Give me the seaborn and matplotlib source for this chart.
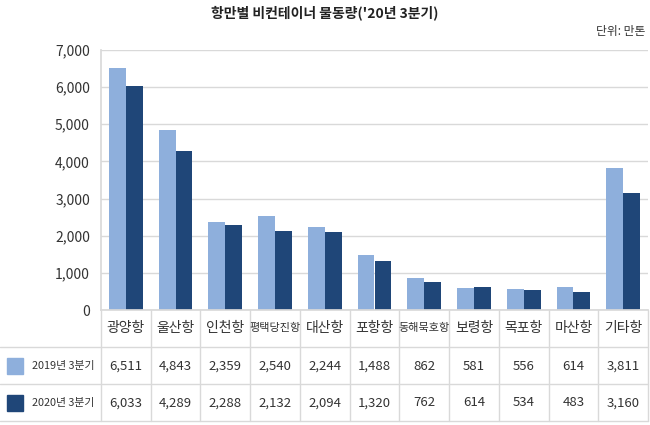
import pandas as pd
import matplotlib.pyplot as plt
import matplotlib.transforms as mtransforms
import seaborn as sns

ports = ["광양항", "울산항", "인천항", "평택당진항", "대산항", "포항항", "동해묵호항",
         "보령항", "목포항", "마산항", "기타항"]
series = ["2019년 3분기", "2020년 3분기"]
vals_2019 = [6511, 4843, 2359, 2540, 2244, 1488, 862, 581, 556, 614, 3811]
vals_2020 = [6033, 4289, 2288, 2132, 2094, 1320, 762, 614, 534, 483, 3160]
yticks = [0, 1000, 2000, 3000, 4000, 5000, 6000, 7000]

colors = ["#8EAFDC", "#1F4678"]
grid_c = "#D9D9D9"
text_c = "#333333"

df = pd.DataFrame({
    "port": ports * 2,
    "series": [series[0]] * len(ports) + [series[1]] * len(ports),
    "value": vals_2019 + vals_2020,
})

sns.set_theme(style="white")
plt.rcParams["font.family"] = ["Noto Sans CJK KR", "DejaVu Sans"]

W, H = 650, 425
fig = plt.figure(figsize=(6.5, 4.25), dpi=100)
ax = fig.add_axes([101 / W, 1 - 310 / H, 547 / W, 260 / H])

sns.barplot(data=df, x="port", y="value", hue="series", palette=colors,
            width=0.68, saturation=1, legend=False, ax=ax, linewidth=0)

ax.set_xlim(-0.5, len(ports) - 0.5)
ax.set_ylim(0, 7000)
ax.set_yticks(yticks)
ax.set_yticklabels([f"{v:,}" for v in yticks], fontsize=10, color=text_c)
ax.set_xticks([])
ax.set_xlabel("")
ax.set_ylabel("")
ax.yaxis.grid(True, color=grid_c, linewidth=1)
ax.set_axisbelow(True)
ax.tick_params(axis="y", length=0, pad=8)
for s in ["top", "right"]:
    ax.spines[s].set_visible(False)
ax.spines["left"].set_color(grid_c)
ax.spines["bottom"].set_color(grid_c)

# 표 부분
trans = mtransforms.blended_transform_factory(ax.transData, fig.transFigure)
fy = lambda py: 1 - py / H
row_lines = [347, 384, 421]
for py in row_lines:
    fig.add_artist(plt.Line2D([0, 648 / W], [fy(py), fy(py)], color=grid_c, lw=1))
for i in range(len(ports) + 1):
    ax.plot([i - 0.5, i - 0.5], [fy(310), fy(421)], transform=trans,
            color=grid_c, lw=1, clip_on=False)

for i, p in enumerate(ports):
    fs = 8 if len(p) > 3 else 10
    ax.text(i, fy(328), p, transform=trans, ha="center", va="center",
            fontsize=fs, color=text_c)
    ax.text(i, fy(366), f"{vals_2019[i]:,}", transform=trans, ha="center",
            va="center", fontsize=9.5, color=text_c)
    ax.text(i, fy(403), f"{vals_2020[i]:,}", transform=trans, ha="center",
            va="center", fontsize=9.5, color=text_c)

for k, py in enumerate([366, 403]):
    fig.add_artist(plt.Rectangle((7 / W, fy(py + 8)), 16 / W, 16 / H,
                                 transform=fig.transFigure, color=colors[k]))
    fig.text(32 / W, fy(py), series[k], ha="left", va="center",
             fontsize=7.8, color=text_c)

fig.text(0.5, fy(13), "항만별 비컨테이너 물동량('20년 3분기)", ha="center",
         va="center", fontsize=10, fontweight="bold", color="#222222")
fig.text(645 / W, fy(32), "단위: 만톤", ha="right", va="center",
         fontsize=8.5, color=text_c)

fig.savefig("out.png", dpi=100)
